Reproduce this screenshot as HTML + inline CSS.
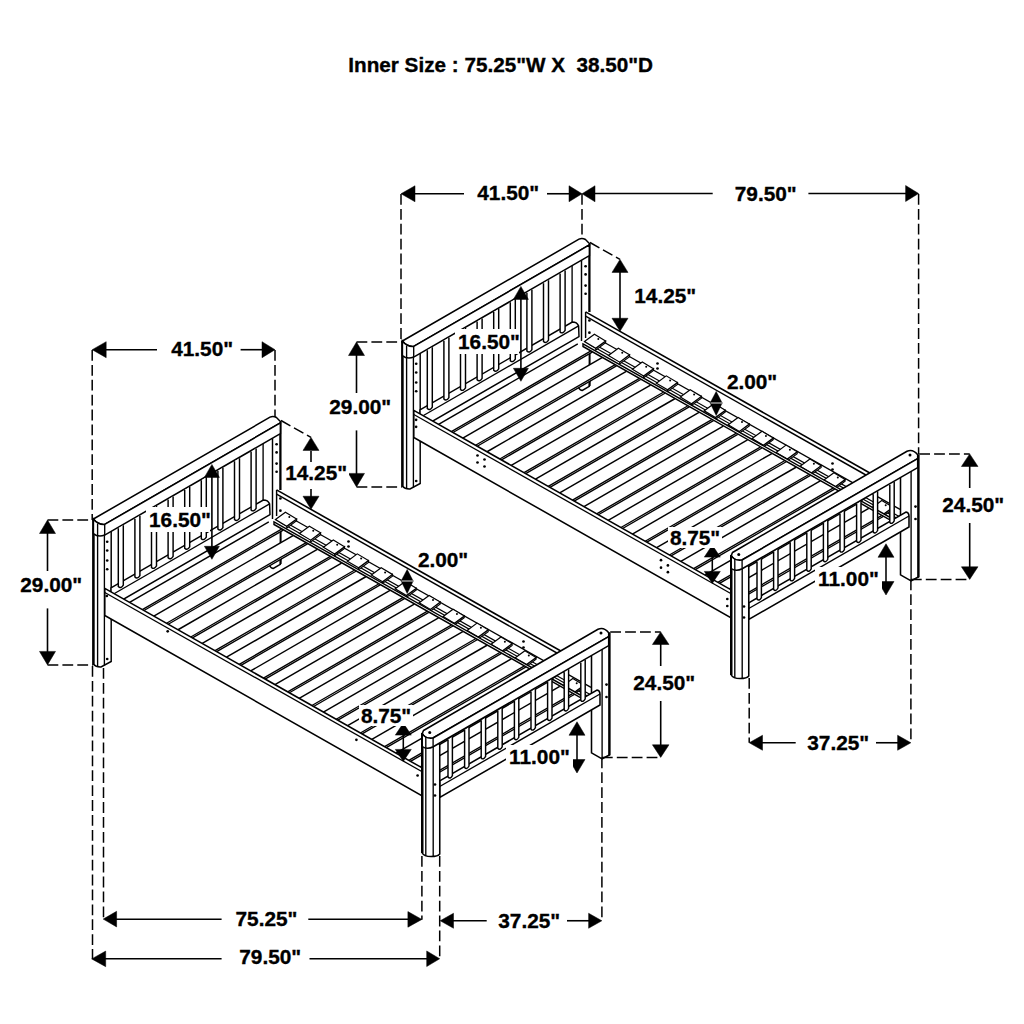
<!DOCTYPE html>
<html><head><meta charset="utf-8"><style>
html,body{margin:0;padding:0;background:#fff;}
svg{display:block;}
text{font-family:"Liberation Sans",sans-serif;font-weight:bold;fill:#000;stroke:#000;stroke-width:0.35px;}
</style></head><body>
<svg width="1024" height="1024" viewBox="0 0 1024 1024" stroke="#000" stroke-linecap="butt" fill="none">
<defs><g id="bed">
<line x1="585.60" y1="311.90" x2="880.00" y2="478.80" stroke-width="1.6" />
<line x1="585.60" y1="316.10" x2="880.00" y2="483.00" stroke-width="1.45" />
<line x1="585.60" y1="311.90" x2="585.60" y2="338.00" stroke-width="1.45" />
<circle cx="589.40" cy="320.50" r="1.35" fill="#000" stroke="none"/>
<circle cx="589.40" cy="332.70" r="1.35" fill="#000" stroke="none"/>
<circle cx="657.50" cy="363.50" r="1.35" fill="#000" stroke="none"/>
<circle cx="657.50" cy="368.50" r="1.35" fill="#000" stroke="none"/>
<circle cx="832.50" cy="463.50" r="1.35" fill="#000" stroke="none"/>
<circle cx="832.50" cy="469.50" r="1.35" fill="#000" stroke="none"/>
<line x1="581.50" y1="256.00" x2="581.50" y2="341.00" stroke-width="1.45" />
<line x1="589.40" y1="243.50" x2="589.40" y2="312.00" stroke-width="2.3" />
<circle cx="585.60" cy="266.25" r="1.35" fill="#000" stroke="none"/>
<circle cx="585.60" cy="274.40" r="1.35" fill="#000" stroke="none"/>
<circle cx="585.60" cy="285.60" r="1.35" fill="#000" stroke="none"/>
<circle cx="585.60" cy="293.75" r="1.35" fill="#000" stroke="none"/>
<path d="M402.4,350 L402.4,486.3 Q405,489.3 410,489 L420.2,483.5 L420.2,350" fill="#fff" stroke-width="1.45" />
<line x1="402.40" y1="341.00" x2="402.40" y2="486.80" stroke-width="2.5" />
<line x1="406.60" y1="346.00" x2="406.60" y2="488.00" stroke-width="1.35" />
<line x1="413.40" y1="357.00" x2="413.40" y2="487.50" stroke-width="1.35" />
<circle cx="416.20" cy="363.75" r="1.35" fill="#000" stroke="none"/>
<circle cx="416.20" cy="372.50" r="1.35" fill="#000" stroke="none"/>
<circle cx="416.20" cy="382.50" r="1.35" fill="#000" stroke="none"/>
<circle cx="416.20" cy="391.25" r="1.35" fill="#000" stroke="none"/>
<circle cx="416.20" cy="481.00" r="1.35" fill="#000" stroke="none"/>
<line x1="572.10" y1="265.64" x2="572.10" y2="323.00" stroke-width="1.35" />
<path d="M402.4,341 L579,239.2 Q582,237.5 585.5,239.5 L589.4,243.5 L589.4,244.95 L413.7,346.4 Q407,347 402.4,341 Z" fill="#fff" stroke-width="1.55" />
<path d="M413.7,346.4 L589.4,244.95 L589.4,255.65 L413.7,357.1 Q407,359.5 402.4,355.6 L402.4,341 Q407,347 413.7,346.4 Z" fill="#fff" stroke-width="1.55" />
<line x1="413.70" y1="346.40" x2="413.70" y2="357.10" stroke-width="1.35" />
<line x1="406.60" y1="345.50" x2="406.60" y2="358.30" stroke-width="1.35" />
<path d="M420,409.94 L572.3,322 Q577,322 578.6,325.9 L579,336.6 L420,428.41 Z" fill="#fff" stroke-width="1.45" />
<line x1="420.00" y1="417.48" x2="578.60" y2="325.90" stroke-width="1.35" />
<path d="M427.30,350.25 L427.30,408.60 Q429.80,411.10 432.30,407.10 L432.30,347.25" fill="#fff" stroke-width="1.45" />
<path d="M443.90,340.66 L443.90,399.02 Q446.40,401.52 448.90,397.52 L448.90,337.66" fill="#fff" stroke-width="1.45" />
<path d="M460.50,331.08 L460.50,389.43 Q463.00,391.93 465.50,387.93 L465.50,328.08" fill="#fff" stroke-width="1.45" />
<path d="M477.10,321.49 L477.10,379.85 Q479.60,382.35 482.10,378.35 L482.10,318.49" fill="#fff" stroke-width="1.45" />
<path d="M493.70,311.91 L493.70,370.26 Q496.20,372.76 498.70,368.76 L498.70,308.91" fill="#fff" stroke-width="1.45" />
<path d="M510.30,302.32 L510.30,360.68 Q512.80,363.18 515.30,359.18 L515.30,299.32" fill="#fff" stroke-width="1.45" />
<path d="M526.90,292.74 L526.90,351.09 Q529.40,353.59 531.90,349.59 L531.90,289.74" fill="#fff" stroke-width="1.45" />
<path d="M543.50,283.15 L543.50,341.51 Q546.00,344.01 548.50,340.01 L548.50,280.15" fill="#fff" stroke-width="1.45" />
<path d="M560.10,273.57 L560.10,331.92 Q562.60,334.42 565.10,330.42 L565.10,270.57" fill="#fff" stroke-width="1.45" />
<line x1="597.00" y1="338.20" x2="900.00" y2="509.40" stroke-width="1.3" />
<line x1="590.00" y1="341.85" x2="900.00" y2="517.00" stroke-width="1.2" />
<line x1="590.00" y1="344.85" x2="900.00" y2="520.00" stroke-width="1.2" />
<polygon points="595.70,348.30 605.60,341.00 605.60,342.80 595.70,350.10" fill="#fff" stroke-width="1.1" />
<polygon points="584.50,341.60 594.40,334.30 605.60,341.00 595.70,348.30" fill="#fff" stroke-width="1.2" />
<circle cx="598.30" cy="339.00" r="1.0" fill="#000" stroke="none"/>
<polygon points="619.65,362.15 629.55,354.85 629.55,356.65 619.65,363.95" fill="#fff" stroke-width="1.1" />
<polygon points="608.45,355.45 618.35,348.15 629.55,354.85 619.65,362.15" fill="#fff" stroke-width="1.2" />
<circle cx="622.25" cy="352.85" r="1.0" fill="#000" stroke="none"/>
<polygon points="643.60,376.00 653.50,368.70 653.50,370.50 643.60,377.80" fill="#fff" stroke-width="1.1" />
<polygon points="632.40,369.30 642.30,362.00 653.50,368.70 643.60,376.00" fill="#fff" stroke-width="1.2" />
<circle cx="646.20" cy="366.70" r="1.0" fill="#000" stroke="none"/>
<polygon points="667.55,389.85 677.45,382.55 677.45,384.35 667.55,391.65" fill="#fff" stroke-width="1.1" />
<polygon points="656.35,383.15 666.25,375.85 677.45,382.55 667.55,389.85" fill="#fff" stroke-width="1.2" />
<circle cx="670.15" cy="380.55" r="1.0" fill="#000" stroke="none"/>
<polygon points="691.50,403.70 701.40,396.40 701.40,398.20 691.50,405.50" fill="#fff" stroke-width="1.1" />
<polygon points="680.30,397.00 690.20,389.70 701.40,396.40 691.50,403.70" fill="#fff" stroke-width="1.2" />
<circle cx="694.10" cy="394.40" r="1.0" fill="#000" stroke="none"/>
<polygon points="715.45,417.55 725.35,410.25 725.35,412.05 715.45,419.35" fill="#fff" stroke-width="1.1" />
<polygon points="704.25,410.85 714.15,403.55 725.35,410.25 715.45,417.55" fill="#fff" stroke-width="1.2" />
<circle cx="718.05" cy="408.25" r="1.0" fill="#000" stroke="none"/>
<polygon points="739.40,431.40 749.30,424.10 749.30,425.90 739.40,433.20" fill="#fff" stroke-width="1.1" />
<polygon points="728.20,424.70 738.10,417.40 749.30,424.10 739.40,431.40" fill="#fff" stroke-width="1.2" />
<circle cx="742.00" cy="422.10" r="1.0" fill="#000" stroke="none"/>
<polygon points="763.35,445.25 773.25,437.95 773.25,439.75 763.35,447.05" fill="#fff" stroke-width="1.1" />
<polygon points="752.15,438.55 762.05,431.25 773.25,437.95 763.35,445.25" fill="#fff" stroke-width="1.2" />
<circle cx="765.95" cy="435.95" r="1.0" fill="#000" stroke="none"/>
<polygon points="787.30,459.10 797.20,451.80 797.20,453.60 787.30,460.90" fill="#fff" stroke-width="1.1" />
<polygon points="776.10,452.40 786.00,445.10 797.20,451.80 787.30,459.10" fill="#fff" stroke-width="1.2" />
<circle cx="789.90" cy="449.80" r="1.0" fill="#000" stroke="none"/>
<polygon points="811.25,472.95 821.15,465.65 821.15,467.45 811.25,474.75" fill="#fff" stroke-width="1.1" />
<polygon points="800.05,466.25 809.95,458.95 821.15,465.65 811.25,472.95" fill="#fff" stroke-width="1.2" />
<circle cx="813.85" cy="463.65" r="1.0" fill="#000" stroke="none"/>
<polygon points="835.20,486.80 845.10,479.50 845.10,481.30 835.20,488.60" fill="#fff" stroke-width="1.1" />
<polygon points="824.00,480.10 833.90,472.80 845.10,479.50 835.20,486.80" fill="#fff" stroke-width="1.2" />
<circle cx="837.80" cy="477.50" r="1.0" fill="#000" stroke="none"/>
<polygon points="859.15,500.65 869.05,493.35 869.05,495.15 859.15,502.45" fill="#fff" stroke-width="1.1" />
<polygon points="847.95,493.95 857.85,486.65 869.05,493.35 859.15,500.65" fill="#fff" stroke-width="1.2" />
<circle cx="861.75" cy="491.35" r="1.0" fill="#000" stroke="none"/>
<polygon points="883.10,514.50 893.00,507.20 893.00,509.00 883.10,516.30" fill="#fff" stroke-width="1.1" />
<polygon points="871.90,507.80 881.80,500.50 893.00,507.20 883.10,514.50" fill="#fff" stroke-width="1.2" />
<circle cx="885.70" cy="505.20" r="1.0" fill="#000" stroke="none"/>
<path d="M578.2,384 L578.2,387 Q580,390.5 582.3,390.5 L589.3,386.4 L589.9,378" fill="#fff" stroke-width="1.5" />
<line x1="589.60" y1="350.00" x2="589.60" y2="386.00" stroke-width="2.0" />
<polygon points="438.58,424.33 577.79,343.95 592.23,352.11 453.01,432.50" fill="#fff" stroke-width="0" stroke="none"/>
<line x1="438.58" y1="424.33" x2="577.79" y2="343.95" stroke-width="1.45" />
<line x1="451.35" y1="431.56" x2="590.57" y2="351.17" stroke-width="1.35" />
<line x1="453.01" y1="432.50" x2="592.23" y2="352.11" stroke-width="1.35" />
<polygon points="462.81,438.04 602.04,357.65 616.48,365.81 477.24,446.21" fill="#fff" stroke-width="0" stroke="none"/>
<line x1="462.81" y1="438.04" x2="602.04" y2="357.65" stroke-width="1.45" />
<line x1="475.58" y1="445.27" x2="614.82" y2="364.87" stroke-width="1.35" />
<line x1="477.24" y1="446.21" x2="616.48" y2="365.81" stroke-width="1.35" />
<polygon points="487.03,451.75 626.28,371.35 640.73,379.51 501.46,459.92" fill="#fff" stroke-width="0" stroke="none"/>
<line x1="487.03" y1="451.75" x2="626.28" y2="371.35" stroke-width="1.45" />
<line x1="499.80" y1="458.98" x2="639.06" y2="378.57" stroke-width="1.35" />
<line x1="501.46" y1="459.92" x2="640.73" y2="379.51" stroke-width="1.35" />
<polygon points="511.26,465.46 650.53,385.05 664.97,393.21 525.69,473.63" fill="#fff" stroke-width="0" stroke="none"/>
<line x1="511.26" y1="465.46" x2="650.53" y2="385.05" stroke-width="1.45" />
<line x1="524.03" y1="472.69" x2="663.31" y2="392.27" stroke-width="1.35" />
<line x1="525.69" y1="473.63" x2="664.97" y2="393.21" stroke-width="1.35" />
<polygon points="535.49,479.18 674.78,398.75 689.22,406.91 549.92,487.34" fill="#fff" stroke-width="0" stroke="none"/>
<line x1="535.49" y1="479.18" x2="674.78" y2="398.75" stroke-width="1.45" />
<line x1="548.25" y1="486.40" x2="687.56" y2="405.97" stroke-width="1.35" />
<line x1="549.92" y1="487.34" x2="689.22" y2="406.91" stroke-width="1.35" />
<polygon points="559.71,492.89 699.02,412.45 713.47,420.61 574.14,501.06" fill="#fff" stroke-width="0" stroke="none"/>
<line x1="559.71" y1="492.89" x2="699.02" y2="412.45" stroke-width="1.45" />
<line x1="572.48" y1="500.12" x2="711.80" y2="419.67" stroke-width="1.35" />
<line x1="574.14" y1="501.06" x2="713.47" y2="420.61" stroke-width="1.35" />
<polygon points="583.94,506.60 723.27,426.15 737.72,434.31 598.37,514.77" fill="#fff" stroke-width="0" stroke="none"/>
<line x1="583.94" y1="506.60" x2="723.27" y2="426.15" stroke-width="1.45" />
<line x1="596.71" y1="513.83" x2="736.05" y2="433.37" stroke-width="1.35" />
<line x1="598.37" y1="514.77" x2="737.72" y2="434.31" stroke-width="1.35" />
<polygon points="608.16,520.31 747.52,439.85 761.96,448.01 622.59,528.48" fill="#fff" stroke-width="0" stroke="none"/>
<line x1="608.16" y1="520.31" x2="747.52" y2="439.85" stroke-width="1.45" />
<line x1="620.93" y1="527.54" x2="760.30" y2="447.07" stroke-width="1.35" />
<line x1="622.59" y1="528.48" x2="761.96" y2="448.01" stroke-width="1.35" />
<polygon points="632.39,534.03 771.77,453.55 786.21,461.71 646.82,542.19" fill="#fff" stroke-width="0" stroke="none"/>
<line x1="632.39" y1="534.03" x2="771.77" y2="453.55" stroke-width="1.45" />
<line x1="645.16" y1="541.25" x2="784.55" y2="460.77" stroke-width="1.35" />
<line x1="646.82" y1="542.19" x2="786.21" y2="461.71" stroke-width="1.35" />
<polygon points="656.61,547.74 796.01,467.25 810.46,475.41 671.04,555.91" fill="#fff" stroke-width="0" stroke="none"/>
<line x1="656.61" y1="547.74" x2="796.01" y2="467.25" stroke-width="1.45" />
<line x1="669.38" y1="554.96" x2="808.79" y2="474.47" stroke-width="1.35" />
<line x1="671.04" y1="555.91" x2="810.46" y2="475.41" stroke-width="1.35" />
<polygon points="680.84,561.45 820.26,480.95 834.70,489.11 695.27,569.62" fill="#fff" stroke-width="0" stroke="none"/>
<line x1="680.84" y1="561.45" x2="820.26" y2="480.95" stroke-width="1.45" />
<line x1="693.61" y1="568.68" x2="833.04" y2="488.17" stroke-width="1.35" />
<line x1="695.27" y1="569.62" x2="834.70" y2="489.11" stroke-width="1.35" />
<polygon points="705.06,575.16 844.51,494.65 858.95,502.81 719.50,583.33" fill="#fff" stroke-width="0" stroke="none"/>
<line x1="705.06" y1="575.16" x2="844.51" y2="494.65" stroke-width="1.45" />
<line x1="717.83" y1="582.39" x2="857.29" y2="501.87" stroke-width="1.35" />
<line x1="719.50" y1="583.33" x2="858.95" y2="502.81" stroke-width="1.35" />
<polygon points="729.29,588.87 868.76,508.35 883.20,516.51 743.72,597.04" fill="#fff" stroke-width="0" stroke="none"/>
<line x1="729.29" y1="588.87" x2="868.76" y2="508.35" stroke-width="1.45" />
<line x1="742.06" y1="596.10" x2="881.54" y2="515.57" stroke-width="1.35" />
<line x1="743.72" y1="597.04" x2="883.20" y2="516.51" stroke-width="1.35" />
<polygon points="583.00,343.89 900.00,523.00 900.00,525.60 583.00,346.50" fill="#fff" stroke-width="1.45" />
<polygon points="413.80,410.30 730.75,589.70 730.75,617.60 413.80,437.50" fill="#fff" stroke-width="1.55" />
<line x1="413.80" y1="414.50" x2="730.75" y2="593.50" stroke-width="1.3" />
<path d="M918.4,454.6 L918.4,577 L911.1,580.8 L900.5,574.8 L900.5,478" fill="#fff" stroke-width="1.55" />
<line x1="918.40" y1="454.60" x2="918.40" y2="577.30" stroke-width="2.3" />
<line x1="911.10" y1="466.00" x2="911.10" y2="580.50" stroke-width="1.35" />
<circle cx="915.50" cy="506.60" r="1.35" fill="#000" stroke="none"/>
<circle cx="915.50" cy="519.00" r="1.35" fill="#000" stroke="none"/>
<path d="M748.75,602.80 L906,512 Q909,512.5 909,516 L909,527 L748.75,619.53 Z" fill="#fff" stroke-width="1.55" />
<line x1="748.75" y1="608.53" x2="909.00" y2="516.00" stroke-width="1.35" />
<path d="M757.00,561.38 L757.00,599.07 Q759.20,601.57 761.40,597.57 L761.40,558.38" fill="#fff" stroke-width="1.45" />
<path d="M773.60,551.79 L773.60,589.49 Q775.80,591.99 778.00,587.99 L778.00,548.79" fill="#fff" stroke-width="1.45" />
<path d="M790.20,542.21 L790.20,579.90 Q792.40,582.40 794.60,578.40 L794.60,539.21" fill="#fff" stroke-width="1.45" />
<path d="M806.80,532.62 L806.80,570.32 Q809.00,572.82 811.20,568.82 L811.20,529.62" fill="#fff" stroke-width="1.45" />
<path d="M823.40,523.04 L823.40,560.74 Q825.60,563.24 827.80,559.24 L827.80,520.04" fill="#fff" stroke-width="1.45" />
<path d="M840.00,513.45 L840.00,551.15 Q842.20,553.65 844.40,549.65 L844.40,510.45" fill="#fff" stroke-width="1.45" />
<path d="M856.60,503.87 L856.60,541.57 Q858.80,544.07 861.00,540.07 L861.00,500.87" fill="#fff" stroke-width="1.45" />
<path d="M873.20,494.28 L873.20,531.98 Q875.40,534.48 877.60,530.48 L877.60,491.28" fill="#fff" stroke-width="1.45" />
<path d="M889.80,484.70 L889.80,522.40 Q892.00,524.90 894.20,520.90 L894.20,481.70" fill="#fff" stroke-width="1.45" />
<path d="M731.25,560 L731.25,675 Q733,678.5 740,678.5 Q747,678.5 748.75,676 L748.75,566 Z" fill="#fff" stroke-width="1.55" />
<line x1="731.25" y1="555.00" x2="731.25" y2="675.00" stroke-width="2.5" />
<line x1="734.80" y1="569.00" x2="734.80" y2="677.50" stroke-width="1.35" />
<line x1="742.20" y1="569.00" x2="742.20" y2="678.00" stroke-width="1.35" />
<circle cx="744.00" cy="606.50" r="1.35" fill="#000" stroke="none"/>
<circle cx="744.00" cy="617.50" r="1.35" fill="#000" stroke="none"/>
<path d="M732.5,552.5 L907,451.28 Q913,448.78 917.7,454.78 L917.7,458.55 L742,560 Q734,561 731.25,555.5 Z" fill="#fff" stroke-width="1.55" />
<path d="M742,560 L917.7,458.55 L917.7,467.59 L742.2,568.75 Q736,572 731.25,568.5 L731.25,555.5 Q734,561 742,560 Z" fill="#fff" stroke-width="1.55" />
<line x1="742.10" y1="560.00" x2="742.10" y2="568.75" stroke-width="1.35" />
<line x1="734.80" y1="559.00" x2="734.80" y2="570.50" stroke-width="1.35" />
<circle cx="910.00" cy="455.00" r="1.5" fill="#000" stroke="none"/>
<circle cx="738.75" cy="554.50" r="1.5" fill="#000" stroke="none"/>
</g>
<g id="dims">
<line x1="356.50" y1="342.00" x2="402.00" y2="342.00" stroke-width="1.5" stroke-dasharray="10.8 4.1"/>
<line x1="356.50" y1="486.90" x2="402.00" y2="486.90" stroke-width="1.5" stroke-dasharray="10.8 4.1"/>
<polygon points="356.50,342.00 348.50,355.50 364.50,355.50" fill="#000" stroke-width="0.5" />
<polygon points="356.50,486.90 348.50,473.40 364.50,473.40" fill="#000" stroke-width="0.5" />
<line x1="356.50" y1="354.00" x2="356.50" y2="393.00" stroke-width="1.6" />
<line x1="356.50" y1="430.40" x2="356.50" y2="475.00" stroke-width="1.6" />
<text x="329.30" y="413.80" font-size="20.8">29.00&quot;</text>
<rect x="455" y="329" width="64" height="25" fill="#fff" stroke="none"/>
<text x="458.05" y="349.10" font-size="20.8">16.50&quot;</text>
<line x1="520.90" y1="298.00" x2="520.90" y2="369.00" stroke-width="1.6" />
<polygon points="520.90,286.40 513.40,299.40 528.40,299.40" fill="#000" stroke-width="0.5" />
<polygon points="520.90,381.30 513.40,368.30 528.40,368.30" fill="#000" stroke-width="0.5" />
<line x1="590.00" y1="242.50" x2="620.00" y2="259.40" stroke-width="1.5" stroke-dasharray="10.8 4.1"/>
<polygon points="620.00,259.40 612.00,272.40 628.00,272.40" fill="#000" stroke-width="0.5" />
<polygon points="620.00,331.25 612.00,318.25 628.00,318.25" fill="#000" stroke-width="0.5" />
<polygon points="716.20,391.25 710.00,403.00 722.30,403.00" fill="#000" stroke-width="0.3" />
<polygon points="716.20,415.70 710.00,403.00 722.30,403.00" fill="#000" stroke-width="0.3" />
<line x1="710.50" y1="403.00" x2="722.00" y2="403.00" stroke-width="0.9" stroke="#fff"/>
<text x="726.90" y="388.80" font-size="20.8">2.00&quot;</text>
<polygon points="712.30,545.10 704.30,557.10 720.30,557.10" fill="#000" stroke-width="0.5" />
<polygon points="712.30,583.40 704.30,571.40 720.30,571.40" fill="#000" stroke-width="0.5" />
<line x1="712.30" y1="556.00" x2="712.30" y2="572.00" stroke-width="1.55" />
<rect x="668" y="527" width="54" height="21" fill="#fff" stroke="none"/>
<text x="669.90" y="545.10" font-size="20.8">8.75&quot;</text>
<polygon points="886.00,543.75 878.00,557.25 894.00,557.25" fill="#000" stroke-width="0.5" />
<polygon points="886.00,595.00 878.00,581.50 894.00,581.50" fill="#000" stroke-width="0.5" />
<line x1="886.00" y1="555.00" x2="886.00" y2="583.00" stroke-width="1.55" />
<rect x="815" y="567" width="67" height="23" fill="#fff" stroke="none"/>
<text x="818.05" y="586.25" font-size="20.8">11.00&quot;</text>
<line x1="919.20" y1="453.90" x2="969.70" y2="453.90" stroke-width="1.5" stroke-dasharray="10.8 4.1"/>
<line x1="910.90" y1="579.40" x2="969.70" y2="579.40" stroke-width="1.5" stroke-dasharray="10.8 4.1"/>
<polygon points="969.70,453.90 961.40,466.50 978.00,466.50" fill="#000" stroke-width="0.5" />
<polygon points="969.70,579.40 961.40,566.80 978.00,566.80" fill="#000" stroke-width="0.5" />
<line x1="969.70" y1="466.00" x2="969.70" y2="488.00" stroke-width="1.6" />
<line x1="969.70" y1="523.00" x2="969.70" y2="567.00" stroke-width="1.6" />
<text x="942.30" y="512.30" font-size="20.8">24.50&quot;</text>
<polygon points="749.20,742.75 762.50,735.25 762.50,750.25" fill="#000" stroke-width="0.5" />
<polygon points="910.90,742.75 897.60,735.25 897.60,750.25" fill="#000" stroke-width="0.5" />
<line x1="762.00" y1="742.75" x2="795.70" y2="742.75" stroke-width="1.6" />
<line x1="876.00" y1="742.75" x2="898.00" y2="742.75" stroke-width="1.6" />
<text x="807.30" y="750.40" font-size="20.8">37.25&quot;</text>
<line x1="910.90" y1="579.40" x2="910.90" y2="742.75" stroke-width="1.5" stroke-dasharray="10.8 4.1"/>
</g></defs>
<use href="#bed"/>
<use href="#dims"/>
<use href="#bed" transform="translate(-309,178)"/>
<use href="#dims" transform="translate(-309,178)"/>
<text x="348.30" y="71.50" font-size="20.7">Inner Size : 75.25&quot;W X &#160;38.50&quot;D</text>
<polygon points="401.00,193.75 415.00,185.75 415.00,201.75" fill="#000" stroke-width="0.5" />
<polygon points="582.00,193.75 569.00,185.75 569.00,201.75" fill="#000" stroke-width="0.5" />
<polygon points="582.00,193.75 595.00,185.75 595.00,201.75" fill="#000" stroke-width="0.5" />
<polygon points="918.60,193.50 905.60,185.50 905.60,201.50" fill="#000" stroke-width="0.5" />
<line x1="414.00" y1="193.75" x2="464.00" y2="193.75" stroke-width="1.6" />
<line x1="547.00" y1="193.75" x2="570.00" y2="193.75" stroke-width="1.6" />
<line x1="594.60" y1="193.50" x2="712.70" y2="193.50" stroke-width="1.6" />
<line x1="808.40" y1="193.50" x2="906.00" y2="193.50" stroke-width="1.6" />
<text x="477.30" y="200.00" font-size="20.8">41.50&quot;</text>
<text x="734.80" y="200.70" font-size="20.8">79.50&quot;</text>
<line x1="401.00" y1="194.00" x2="401.00" y2="341.00" stroke-width="1.5" stroke-dasharray="10.8 4.1"/>
<line x1="582.00" y1="194.00" x2="582.00" y2="238.00" stroke-width="1.5" stroke-dasharray="10.8 4.1"/>
<line x1="918.60" y1="194.00" x2="918.60" y2="453.90" stroke-width="1.5" stroke-dasharray="10.8 4.1"/>
<line x1="620.00" y1="272.00" x2="620.00" y2="319.00" stroke-width="1.6" />
<text x="634.30" y="303.10" font-size="20.8">14.25&quot;</text>
<line x1="749.20" y1="678.00" x2="749.20" y2="742.75" stroke-width="1.5" stroke-dasharray="10.8 4.1"/>
<polygon points="92.20,349.70 106.20,341.70 106.20,357.70" fill="#000" stroke-width="0.5" />
<polygon points="275.00,349.70 262.00,341.70 262.00,357.70" fill="#000" stroke-width="0.5" />
<line x1="106.00" y1="349.70" x2="157.00" y2="349.70" stroke-width="1.6" />
<line x1="240.60" y1="349.70" x2="262.50" y2="349.70" stroke-width="1.6" />
<text x="171.20" y="356.00" font-size="20.8">41.50&quot;</text>
<line x1="92.20" y1="350.00" x2="92.20" y2="520.00" stroke-width="1.5" stroke-dasharray="10.8 4.1"/>
<line x1="275.00" y1="350.00" x2="275.00" y2="417.00" stroke-width="1.5" stroke-dasharray="10.8 4.1"/>
<line x1="311.00" y1="451.00" x2="311.00" y2="462.20" stroke-width="1.6" />
<line x1="311.00" y1="488.90" x2="311.00" y2="498.00" stroke-width="1.6" />
<rect x="283" y="462" width="66" height="23" fill="#fff" stroke="none"/>
<text x="285.20" y="480.00" font-size="20.8">14.25&quot;</text>
<line x1="92.50" y1="666.00" x2="92.50" y2="958.90" stroke-width="1.5" stroke-dasharray="10.8 4.1"/>
<line x1="103.50" y1="668.00" x2="103.50" y2="919.10" stroke-width="1.5" stroke-dasharray="10.8 4.1"/>
<line x1="421.90" y1="856.00" x2="421.90" y2="919.70" stroke-width="1.5" stroke-dasharray="10.8 4.1"/>
<line x1="439.70" y1="856.00" x2="439.70" y2="958.75" stroke-width="1.5" stroke-dasharray="10.8 4.1"/>
<polygon points="103.20,919.10 116.60,911.30 116.60,926.90" fill="#000" stroke-width="0.5" />
<polygon points="421.90,919.40 407.90,911.60 407.90,927.20" fill="#000" stroke-width="0.5" />
<line x1="116.00" y1="919.20" x2="221.60" y2="919.20" stroke-width="1.6" />
<line x1="308.30" y1="919.30" x2="408.00" y2="919.30" stroke-width="1.6" />
<text x="235.55" y="925.90" font-size="20.8">75.25&quot;</text>
<polygon points="91.70,958.90 105.70,951.10 105.70,966.70" fill="#000" stroke-width="0.5" />
<polygon points="439.70,958.75 426.70,950.95 426.70,966.55" fill="#000" stroke-width="0.5" />
<line x1="105.00" y1="958.80" x2="221.60" y2="958.80" stroke-width="1.6" />
<line x1="309.50" y1="958.80" x2="427.00" y2="958.80" stroke-width="1.6" />
<text x="239.30" y="964.20" font-size="20.8">79.50&quot;</text>
<circle cx="416.10" cy="419.80" r="1.35" fill="#000" stroke="none"/>
<circle cx="416.10" cy="426.80" r="1.35" fill="#000" stroke="none"/>
<circle cx="727.30" cy="599.00" r="1.35" fill="#000" stroke="none"/>
<circle cx="727.30" cy="606.00" r="1.35" fill="#000" stroke="none"/>
<circle cx="477.50" cy="455.50" r="1.35" fill="#000" stroke="none"/>
<circle cx="484.50" cy="459.50" r="1.35" fill="#000" stroke="none"/>
<circle cx="477.50" cy="462.50" r="1.35" fill="#000" stroke="none"/>
<circle cx="484.50" cy="466.50" r="1.35" fill="#000" stroke="none"/>
<circle cx="661.00" cy="560.20" r="1.35" fill="#000" stroke="none"/>
<circle cx="667.90" cy="565.40" r="1.35" fill="#000" stroke="none"/>
<circle cx="661.00" cy="567.70" r="1.35" fill="#000" stroke="none"/>
<circle cx="667.90" cy="572.20" r="1.35" fill="#000" stroke="none"/>
<circle cx="106.80" cy="596.00" r="1.35" fill="#000" stroke="none"/>
<circle cx="167.70" cy="631.30" r="1.35" fill="#000" stroke="none"/>
<circle cx="356.40" cy="739.80" r="1.35" fill="#000" stroke="none"/>
<circle cx="417.60" cy="775.50" r="1.35" fill="#000" stroke="none"/>
</svg>
</body></html>
